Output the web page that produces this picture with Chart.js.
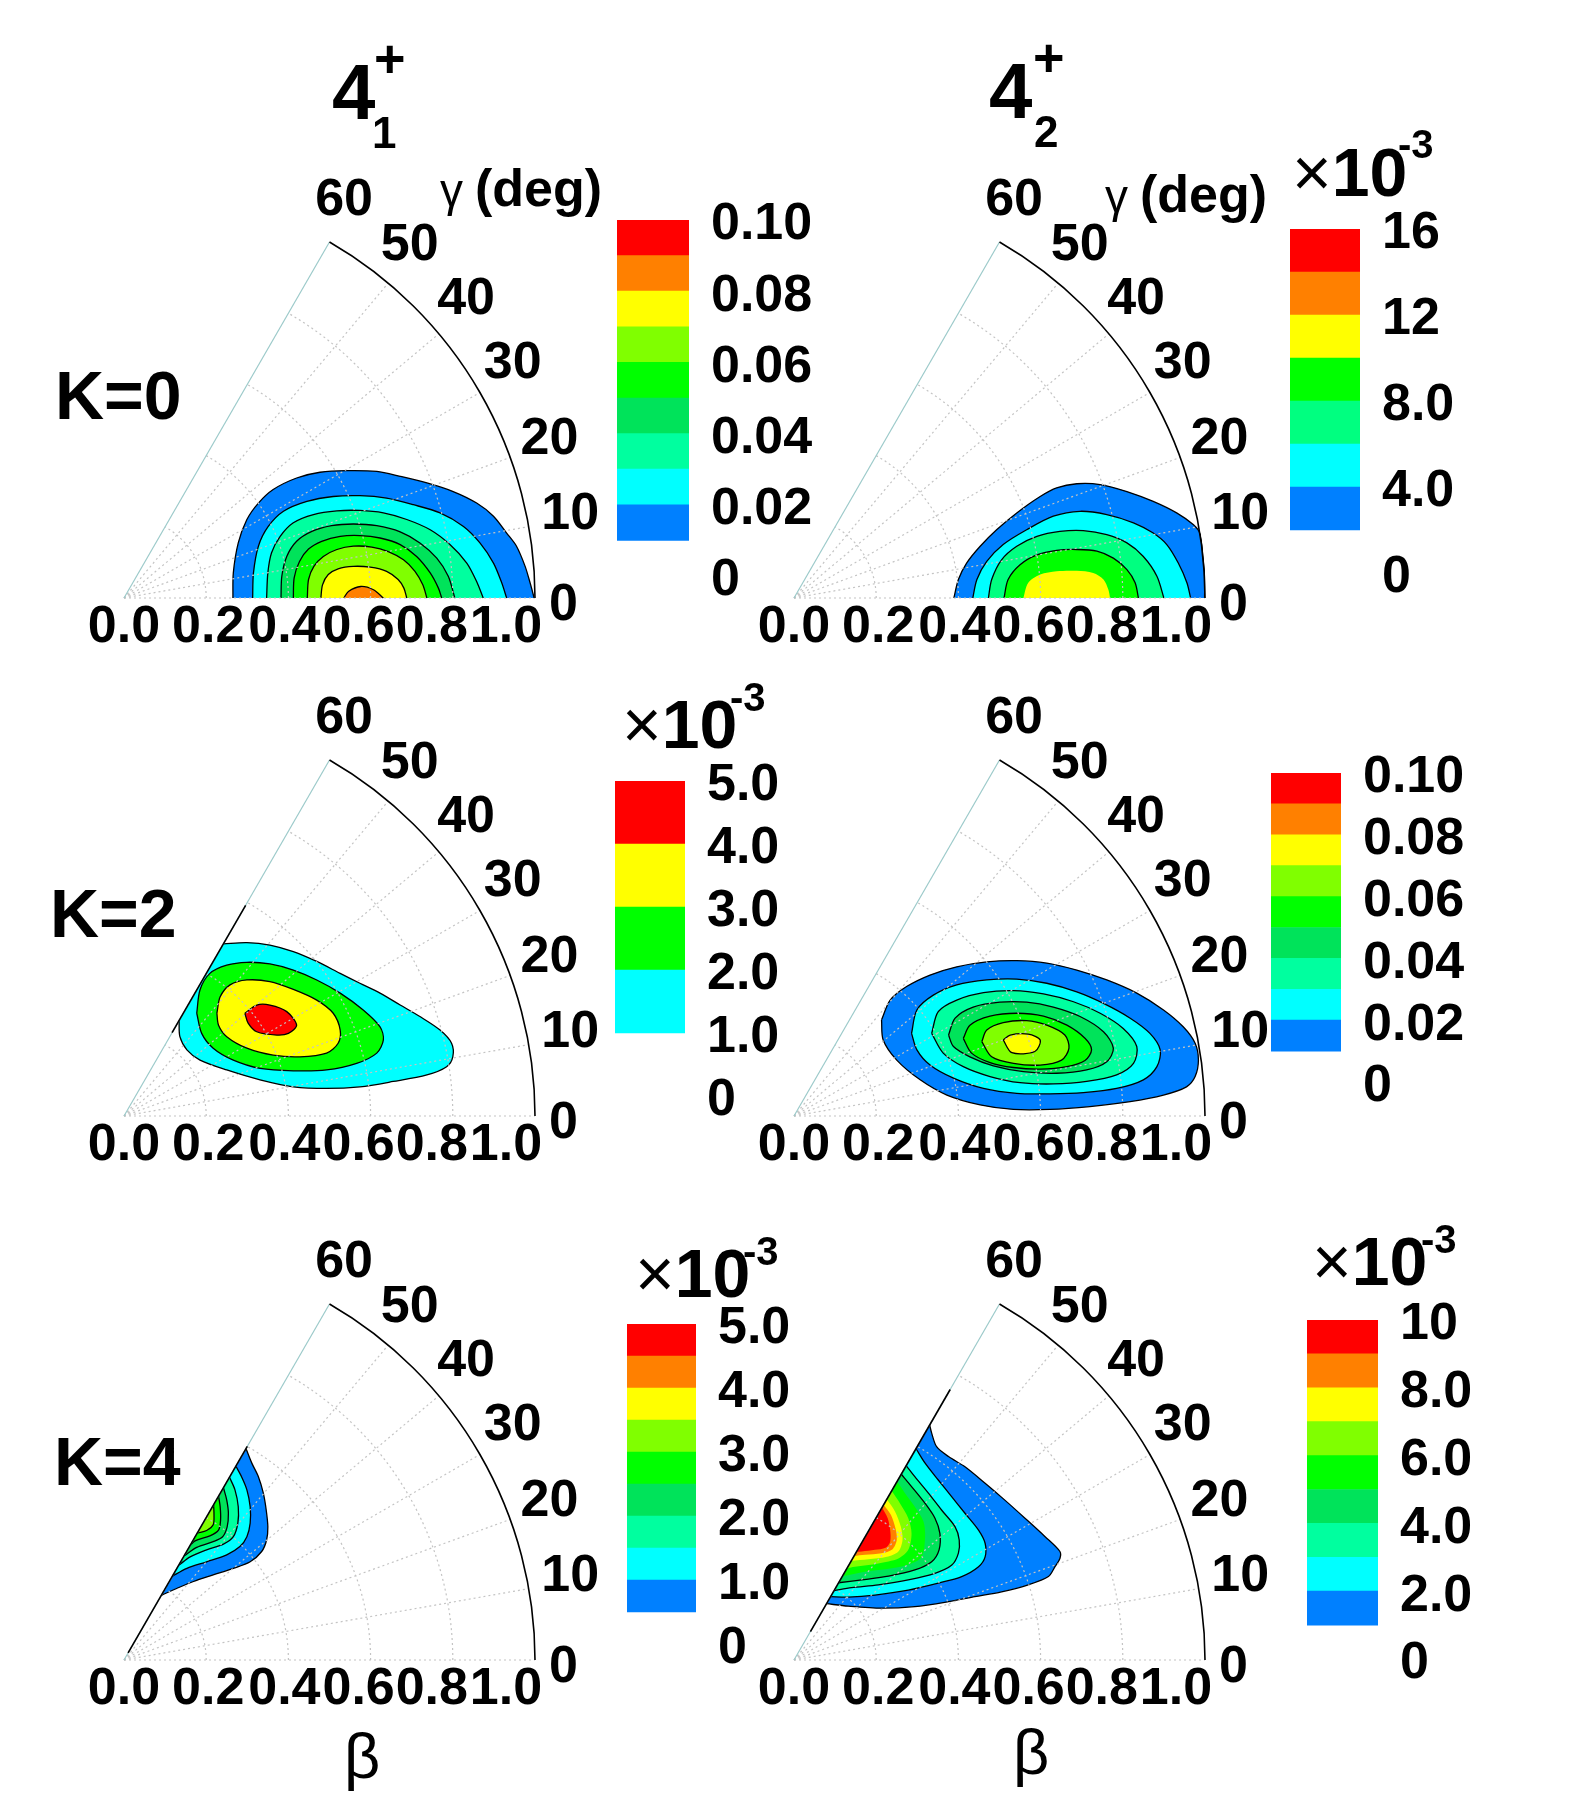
<!DOCTYPE html>
<html><head><meta charset="utf-8">
<script src="https://cdn.jsdelivr.net/npm/chart.js@4.4.1/dist/chart.umd.min.js"></script>
<style>
html,body{margin:0;padding:0;background:#fff;}
body{width:1592px;height:1800px;position:relative;overflow:hidden;font-family:'Liberation Sans',Arial,Helvetica,sans-serif;}
canvas{position:absolute;}
.t{position:absolute;white-space:nowrap;line-height:1;color:#000;}
</style></head><body>
<script>
// ---------- axis data ----------
const betaTicks = [0, 0.2, 0.4, 0.6, 0.8, 1.0];
const betaTickLabels = ['0.0','0.2','0.4','0.6','0.8','1.0'];
const gammaTicks = [0,10,20,30,40,50,60];
const gridBeta = [0.2,0.4,0.6,0.8];
const gridGamma = [10,20,30,40,50];

// ---------- palettes ----------
const pal9 = ['#0080ff','#00ffff','#00ff9f','#00e35a','#00ff00','#80ff00','#ffff00','#ff8000','#ff0000'];
const pal7 = ['#0080ff','#00ffff','#00ff80','#00ff00','#ffff00','#ff8000','#ff0000'];
const pal4 = ['#00ffff','#00ff00','#ffff00','#ff0000'];

// ---------- colour-bar levels & tick labels ----------
const levels41K0 = [0.01,0.02,0.03,0.04,0.05,0.06,0.07,0.08,0.09,0.10];
const ticks41K0 = [0,0.02,0.04,0.06,0.08,0.10];
const tickLabels41K0 = ['0','0.02','0.04','0.06','0.08','0.10'];
const levels42K0 = [2,4,6,8,10,12,14,16];
const ticks42K0 = [0,4,8,12,16];
const tickLabels42K0 = ['0','4.0','8.0','12','16'];
const levels41K2 = [1,2,3,4,5];
const ticks41K2 = [0,1,2,3,4,5];
const tickLabels41K2 = ['0','1.0','2.0','3.0','4.0','5.0'];
const levels42K2 = [0.01,0.02,0.03,0.04,0.05,0.06,0.07,0.08,0.09,0.10];
const ticks42K2 = [0,0.02,0.04,0.06,0.08,0.10];
const tickLabels42K2 = ['0','0.02','0.04','0.06','0.08','0.10'];
const levels41K4 = [0.5,1.0,1.5,2.0,2.5,3.0,3.5,4.0,4.5,5.0];
const ticks41K4 = [0,1,2,3,4,5];
const tickLabels41K4 = ['0','1.0','2.0','3.0','4.0','5.0'];
const levels42K4 = [1,2,3,4,5,6,7,8,9,10];
const ticks42K4 = [0,2,4,6,8,10];
const tickLabels42K4 = ['0','2.0','4.0','6.0','8.0','10'];

// ---------- contour outlines, points as [beta*cos(gamma), beta*sin(gamma)] ----------
// 4_1+, K=0
const c41K0_1 = [[0.265,0],[0.266,0.061],[0.278,0.134],[0.299,0.191],[0.327,0.231],[0.363,0.264],[0.420,0.292],[0.477,0.306],[0.542,0.310],[0.615,0.308],[0.672,0.296],[0.737,0.280],[0.801,0.259],[0.858,0.231],[0.899,0.199],[0.931,0.158],[0.955,0.126],[0.976,0.077],[0.988,0.037],[0.998,0]];
const c41K0_2 = [[0.313,0],[0.315,0.061],[0.327,0.126],[0.351,0.174],[0.388,0.211],[0.445,0.235],[0.509,0.247],[0.574,0.249],[0.639,0.243],[0.704,0.227],[0.769,0.207],[0.826,0.174],[0.866,0.134],[0.899,0.085],[0.919,0.037],[0.931,0]];
const c41K0_3 = [[0.347,0],[0.350,0.061],[0.359,0.110],[0.380,0.150],[0.412,0.183],[0.461,0.203],[0.518,0.212],[0.574,0.213],[0.631,0.207],[0.688,0.191],[0.745,0.166],[0.793,0.130],[0.834,0.085],[0.858,0.040],[0.874,0]];
const c41K0_4 = [[0.382,0],[0.384,0.053],[0.396,0.101],[0.420,0.138],[0.457,0.162],[0.505,0.176],[0.558,0.180],[0.615,0.176],[0.672,0.161],[0.720,0.134],[0.761,0.097],[0.789,0.053],[0.805,0]];
const c41K0_5 = [[0.412,0],[0.414,0.049],[0.427,0.089],[0.449,0.119],[0.481,0.138],[0.526,0.150],[0.574,0.152],[0.623,0.146],[0.672,0.130],[0.712,0.101],[0.745,0.061],[0.765,0.024],[0.773,0]];
const c41K0_6 = [[0.446,0],[0.449,0.045],[0.462,0.077],[0.485,0.101],[0.518,0.118],[0.558,0.126],[0.603,0.124],[0.643,0.113],[0.680,0.093],[0.708,0.065],[0.727,0.032],[0.737,0]];
const c41K0_7 = [[0.479,0],[0.483,0.032],[0.497,0.057],[0.521,0.071],[0.558,0.077],[0.599,0.075],[0.639,0.065],[0.667,0.045],[0.681,0.024],[0.688,0]];
const c41K0_8 = [[0.535,0],[0.546,0.016],[0.576,0.028],[0.607,0.020],[0.631,0]];
// 4_2+, K=0
const c42K0_1 = [[0.389,0],[0.400,0.045],[0.420,0.085],[0.453,0.126],[0.493,0.166],[0.542,0.207],[0.599,0.247],[0.639,0.268],[0.688,0.278],[0.745,0.276],[0.810,0.259],[0.874,0.235],[0.931,0.207],[0.972,0.178],[0.988,0.156],[0.995,0.105],[0.999,0.052],[0.999,0]];
const c42K0_2 = [[0.435,0],[0.445,0.045],[0.469,0.089],[0.509,0.130],[0.566,0.166],[0.631,0.199],[0.696,0.211],[0.761,0.203],[0.826,0.183],[0.874,0.158],[0.907,0.130],[0.935,0.085],[0.956,0.037],[0.965,0]];
const c42K0_3 = [[0.473,0],[0.481,0.045],[0.505,0.093],[0.542,0.126],[0.591,0.150],[0.647,0.162],[0.704,0.164],[0.761,0.154],[0.810,0.134],[0.850,0.101],[0.883,0.053],[0.900,0]];
const c42K0_4 = [[0.511,0],[0.521,0.045],[0.550,0.081],[0.591,0.105],[0.639,0.116],[0.688,0.118],[0.737,0.114],[0.777,0.097],[0.810,0.069],[0.830,0.037],[0.838,0]];
const c42K0_5 = [[0.558,0],[0.570,0.037],[0.599,0.057],[0.639,0.065],[0.688,0.066],[0.728,0.061],[0.753,0.045],[0.765,0.020],[0.769,0]];
// 4_1+, K=2
const c41K2_1 = [[0.242,0.419],[0.299,0.422],[0.355,0.416],[0.412,0.400],[0.469,0.376],[0.526,0.347],[0.574,0.323],[0.623,0.299],[0.672,0.270],[0.720,0.242],[0.769,0.209],[0.797,0.177],[0.800,0.144],[0.785,0.120],[0.737,0.100],[0.655,0.084],[0.574,0.071],[0.493,0.067],[0.412,0.071],[0.331,0.088],[0.250,0.112],[0.185,0.136],[0.153,0.161],[0.136,0.193],[0.134,0.231]];
const c41K2_2 = [[0.177,0.250],[0.185,0.307],[0.209,0.347],[0.250,0.367],[0.299,0.374],[0.355,0.370],[0.412,0.355],[0.469,0.331],[0.526,0.299],[0.582,0.258],[0.623,0.217],[0.631,0.185],[0.615,0.153],[0.566,0.128],[0.493,0.112],[0.412,0.110],[0.331,0.116],[0.266,0.136],[0.217,0.165],[0.189,0.201],[0.177,0.250]];
const c41K2_3 = [[0.226,0.250],[0.234,0.290],[0.258,0.319],[0.299,0.331],[0.355,0.327],[0.412,0.308],[0.469,0.282],[0.509,0.250],[0.526,0.209],[0.521,0.177],[0.493,0.153],[0.428,0.144],[0.363,0.148],[0.299,0.165],[0.250,0.193],[0.230,0.221],[0.226,0.250]];
const c41K2_4 = [[0.294,0.250],[0.323,0.270],[0.355,0.270],[0.396,0.254],[0.420,0.221],[0.400,0.201],[0.372,0.197],[0.323,0.205],[0.302,0.226],[0.294,0.250]];
// 4_2+, K=2
const c42K2_1 = [[0.213,0.234],[0.234,0.282],[0.274,0.315],[0.331,0.343],[0.396,0.363],[0.469,0.375],[0.542,0.378],[0.615,0.372],[0.688,0.355],[0.761,0.331],[0.834,0.299],[0.899,0.258],[0.947,0.217],[0.976,0.177],[0.984,0.136],[0.976,0.096],[0.955,0.071],[0.899,0.051],[0.818,0.035],[0.720,0.023],[0.623,0.016],[0.534,0.016],[0.453,0.027],[0.372,0.051],[0.307,0.088],[0.250,0.136],[0.217,0.185],[0.213,0.234]];
const c42K2_2 = [[0.286,0.201],[0.299,0.258],[0.339,0.294],[0.396,0.319],[0.469,0.331],[0.542,0.333],[0.615,0.323],[0.688,0.302],[0.753,0.274],[0.818,0.238],[0.866,0.201],[0.891,0.161],[0.883,0.120],[0.850,0.088],[0.785,0.067],[0.704,0.057],[0.623,0.054],[0.542,0.055],[0.461,0.067],[0.388,0.092],[0.331,0.124],[0.299,0.161],[0.286,0.201]];
const c42K2_3 = [[0.335,0.201],[0.351,0.254],[0.396,0.282],[0.461,0.300],[0.534,0.305],[0.607,0.297],[0.680,0.278],[0.745,0.250],[0.801,0.213],[0.834,0.169],[0.826,0.128],[0.785,0.100],[0.712,0.084],[0.631,0.078],[0.550,0.081],[0.477,0.096],[0.412,0.120],[0.363,0.153],[0.335,0.201]];
const c42K2_4 = [[0.376,0.197],[0.392,0.238],[0.436,0.265],[0.501,0.277],[0.566,0.277],[0.631,0.265],[0.696,0.242],[0.753,0.205],[0.777,0.165],[0.761,0.132],[0.712,0.112],[0.639,0.104],[0.558,0.108],[0.485,0.122],[0.428,0.144],[0.388,0.169],[0.376,0.197]];
const c42K2_5 = [[0.412,0.189],[0.428,0.221],[0.477,0.243],[0.542,0.250],[0.607,0.243],[0.664,0.221],[0.708,0.189],[0.724,0.161],[0.708,0.135],[0.664,0.120],[0.599,0.114],[0.534,0.118],[0.477,0.130],[0.432,0.153],[0.412,0.189]];
const c42K2_6 = [[0.457,0.181],[0.469,0.209],[0.509,0.227],[0.566,0.232],[0.615,0.221],[0.659,0.197],[0.669,0.165],[0.651,0.136],[0.599,0.124],[0.534,0.128],[0.481,0.144],[0.457,0.181]];
const c42K2_7 = [[0.509,0.185],[0.526,0.197],[0.570,0.199],[0.599,0.185],[0.586,0.157],[0.530,0.154],[0.509,0.185]];
// 4_1+, K=4
const c41K4_1 = [[0.297,0.514],[0.311,0.479],[0.327,0.446],[0.339,0.406],[0.346,0.365],[0.350,0.324],[0.347,0.292],[0.335,0.264],[0.307,0.239],[0.266,0.223],[0.217,0.207],[0.169,0.191],[0.128,0.174],[0.092,0.158]];
const c41K4_2 = [[0.272,0.472],[0.286,0.446],[0.299,0.414],[0.307,0.373],[0.307,0.333],[0.299,0.300],[0.282,0.276],[0.250,0.256],[0.201,0.239],[0.153,0.223],[0.116,0.203]];
const c41K4_3 = [[0.257,0.444],[0.270,0.414],[0.278,0.373],[0.277,0.333],[0.266,0.300],[0.242,0.282],[0.201,0.268],[0.161,0.251],[0.134,0.231]];
const c41K4_4 = [[0.242,0.419],[0.250,0.389],[0.254,0.357],[0.251,0.324],[0.240,0.300],[0.217,0.288],[0.177,0.274],[0.147,0.254]];
const c41K4_5 = [[0.230,0.399],[0.234,0.373],[0.235,0.341],[0.230,0.316],[0.209,0.302],[0.173,0.290],[0.160,0.278]];
const c41K4_6 = [[0.218,0.378],[0.219,0.353],[0.217,0.329],[0.201,0.315],[0.179,0.309]];
// 4_2+, K=4
const c42K4_1 = [[0.330,0.572],[0.335,0.552],[0.347,0.519],[0.376,0.495],[0.416,0.470],[0.465,0.430],[0.513,0.389],[0.562,0.345],[0.611,0.300],[0.647,0.264],[0.647,0.247],[0.635,0.227],[0.619,0.203],[0.570,0.183],[0.505,0.166],[0.440,0.154],[0.376,0.142],[0.294,0.130],[0.213,0.126],[0.132,0.131],[0.079,0.137]];
const c42K4_2 = [[0.297,0.514],[0.319,0.479],[0.351,0.438],[0.384,0.397],[0.416,0.357],[0.449,0.316],[0.465,0.284],[0.465,0.251],[0.449,0.227],[0.408,0.203],[0.351,0.187],[0.278,0.170],[0.197,0.158],[0.132,0.153],[0.089,0.154]];
const c42K4_3 = [[0.273,0.473],[0.294,0.446],[0.327,0.406],[0.359,0.365],[0.392,0.324],[0.402,0.292],[0.400,0.260],[0.384,0.231],[0.343,0.211],[0.278,0.195],[0.205,0.183],[0.140,0.176],[0.098,0.169]];
const c42K4_4 = [[0.261,0.452],[0.286,0.422],[0.319,0.381],[0.343,0.345],[0.355,0.308],[0.353,0.268],[0.335,0.239],[0.294,0.219],[0.230,0.204],[0.165,0.195],[0.108,0.188]];
const c42K4_5 = [[0.251,0.435],[0.270,0.406],[0.294,0.373],[0.315,0.337],[0.319,0.300],[0.311,0.251],[0.286,0.235],[0.238,0.223],[0.173,0.215],[0.118,0.204]];
const c42K4_6 = [[0.238,0.411],[0.258,0.381],[0.278,0.345],[0.286,0.308],[0.278,0.268],[0.254,0.247],[0.205,0.235],[0.148,0.227],[0.129,0.223]];
const c42K4_7 = [[0.226,0.391],[0.246,0.361],[0.260,0.324],[0.264,0.292],[0.254,0.264],[0.226,0.251],[0.181,0.245],[0.139,0.241]];
const c42K4_8 = [[0.218,0.378],[0.236,0.353],[0.247,0.320],[0.250,0.292],[0.239,0.269],[0.213,0.260],[0.173,0.256],[0.146,0.253]];
const c42K4_9 = [[0.214,0.371],[0.228,0.345],[0.234,0.316],[0.234,0.288],[0.223,0.273],[0.197,0.268],[0.165,0.264],[0.152,0.263]];

// beta-range where the gamma=60 edge carries a black contour line
const edge41K2 = [0.234, 0.592];
const edge41K4 = [0.02, 0.60];
const edge42K4 = [0.08, 0.76];

// ---------- layout ----------
const PX = 411; // pixels per unit of beta
const FONT = "'Liberation Sans', Arial, Helvetica, sans-serif";
const gammaLabelAngleOffset = [-1, 0.6, 0.4, 1.1, 1.1, 1.0, 1.0];
const betaLabelShiftPx = [0, 2, -4, -12, -21, -29];
const panels = [
  {ox:124, oy:598, contours:[c41K0_1,c41K0_2,c41K0_3,c41K0_4,c41K0_5,c41K0_6,c41K0_7,c41K0_8], colors:pal9, lined:[1,1,1,1,1,1,1,1], edge:null,
   cb:{left:617, top:220, zero:576, width:72, levels:levels41K0, colors:pal9, ticks:ticks41K0, labels:tickLabels41K0}},
  {ox:794, oy:598, contours:[c42K0_1,c42K0_2,c42K0_3,c42K0_4,c42K0_5], colors:pal7, lined:[1,1,1,1,0], edge:null,
   cb:{left:1290, top:229, zero:573, width:70, levels:levels42K0, colors:pal7, ticks:ticks42K0, labels:tickLabels42K0}},
  {ox:124, oy:1116, contours:[c41K2_1,c41K2_2,c41K2_3,c41K2_4], colors:pal4, lined:[1,1,1,1], edge:edge41K2,
   cb:{left:615, top:781, zero:1096, width:70, levels:levels41K2, colors:pal4, ticks:ticks41K2, labels:tickLabels41K2}},
  {ox:794, oy:1116, contours:[c42K2_1,c42K2_2,c42K2_3,c42K2_4,c42K2_5,c42K2_6,c42K2_7], colors:pal9, lined:[1,1,1,1,1,1,1], edge:null,
   cb:{left:1271, top:773, zero:1082, width:70, levels:levels42K2, colors:pal9, ticks:ticks42K2, labels:tickLabels42K2}},
  {ox:124, oy:1660, contours:[c41K4_1,c41K4_2,c41K4_3,c41K4_4,c41K4_5,c41K4_6], colors:pal9, lined:[1,1,1,1,1,1], edge:edge41K4,
   cb:{left:627, top:1324, zero:1644, width:69, levels:levels41K4, colors:pal9, ticks:ticks41K4, labels:tickLabels41K4}},
  {ox:794, oy:1660, contours:[c42K4_1,c42K4_2,c42K4_3,c42K4_4,c42K4_5,c42K4_6,c42K4_7,c42K4_8,c42K4_9], colors:pal9, lined:[1,1,1,1,0,0,0,0,0], edge:edge42K4,
   cb:{left:1307, top:1320, zero:1659, width:71, levels:levels42K4, colors:pal9, ticks:ticks42K4, labels:tickLabels42K4}}
];

function makeCanvas(left, top, w, h) {
  const cv = document.createElement('canvas');
  cv.width = w; cv.height = h;
  cv.style.left = left + 'px'; cv.style.top = top + 'px';
  cv.style.width = w + 'px'; cv.style.height = h + 'px';
  document.body.appendChild(cv);
  return cv;
}

function wedgePlugin(p) {
  function geo(chart) {
    const xs = chart.scales.x, ys = chart.scales.y;
    const x0 = xs.getPixelForValue(0), y0 = ys.getPixelForValue(0);
    const r = xs.getPixelForValue(1) - x0;
    const P = (b, g) => { const a = g * Math.PI / 180; return [xs.getPixelForValue(b * Math.cos(a)), ys.getPixelForValue(b * Math.sin(a))]; };
    return {x0, y0, r, P};
  }
  return {
    id: 'wedge',
    beforeDatasetsDraw(chart) {
      const {x0, y0, r} = geo(chart); const ctx = chart.ctx;
      ctx.save();
      ctx.beginPath(); ctx.moveTo(x0, y0 + 1); ctx.lineTo(x0 + r + 1, y0 + 1);
      ctx.arc(x0, y0, r + 1, 0, -Math.PI / 3, true); ctx.closePath(); ctx.clip();
    },
    afterDatasetsDraw(chart) {
      const ctx = chart.ctx; ctx.restore();
      const {x0, y0, r, P} = geo(chart);
      ctx.save();
      // dotted grid
      ctx.strokeStyle = '#c4c4c4'; ctx.lineWidth = 1.2; ctx.setLineDash([2, 3]);
      gridBeta.forEach(b => { ctx.beginPath(); ctx.arc(x0, y0, b * r, 0, -Math.PI / 3, true); ctx.stroke(); });
      gridGamma.concat([0]).forEach(g => { const a = P(0, g), c = P(1, g); ctx.beginPath(); ctx.moveTo(a[0], a[1]); ctx.lineTo(c[0], c[1]); ctx.stroke(); });
      ctx.setLineDash([]);
      // 60 degree edge
      { const a = P(0, 60), c = P(1, 60); ctx.strokeStyle = '#9ccaca'; ctx.lineWidth = 1.2; ctx.beginPath(); ctx.moveTo(a[0], a[1]); ctx.lineTo(c[0], c[1]); ctx.stroke(); }
      if (p.edge) { const a = P(p.edge[0], 60), c = P(p.edge[1], 60); ctx.strokeStyle = '#000'; ctx.lineWidth = 1.6; ctx.beginPath(); ctx.moveTo(a[0], a[1]); ctx.lineTo(c[0], c[1]); ctx.stroke(); }
      // outer arc
      ctx.strokeStyle = '#000'; ctx.lineWidth = 1.6; ctx.beginPath(); ctx.arc(x0, y0, r, 0, -Math.PI / 3, true); ctx.stroke();
      // tick labels (beta labels squeezed toward the origin as in the original)
      ctx.fillStyle = '#000'; ctx.font = 'bold 52px ' + FONT;
      ctx.textAlign = 'center'; ctx.textBaseline = 'alphabetic';
      betaTicks.forEach((b, i) => { const q = P(b, 0); ctx.fillText(betaTickLabels[i], q[0] + betaLabelShiftPx[i], y0 + 44); });
      ctx.textBaseline = 'middle';
      gammaTicks.forEach((g, i) => {
        const s = String(g); const w = ctx.measureText(s).width;
        const rr = (r + 14 + w / 2) / r; const ang = g + gammaLabelAngleOffset[i];
        const q = P(rr, ang); ctx.fillText(s, q[0], q[1]);
      });
      ctx.restore();
    }
  };
}

function makeWedge(p) {
  const L = 100, T = 460, W = 590, H = 520;
  const cv = makeCanvas(p.ox - L, p.oy - T, W, H);
  const n = p.contours.length;
  const datasets = p.contours.map((pts, i) => ({
    data: pts.map(v => ({x: v[0], y: v[1]})),
    showLine: true, fill: 'shape', backgroundColor: p.colors[i],
    borderColor: p.lined[i] ? '#000' : 'rgba(0,0,0,0)', borderWidth: p.lined[i] ? 1.3 : 0,
    pointRadius: 0, pointHoverRadius: 0, tension: 0.3, order: n - i
  }));
  new Chart(cv, {
    type: 'scatter', data: {datasets},
    options: {
      responsive: false, animation: false, events: [], devicePixelRatio: 1,
      layout: {padding: 0},
      plugins: {legend: {display: false}, tooltip: {enabled: false}},
      scales: {
        x: {type: 'linear', display: false, min: -L / PX, max: (W - L) / PX},
        y: {type: 'linear', display: false, min: -(H - T) / PX, max: T / PX}
      }
    },
    plugins: [wedgePlugin(p)]
  });
}

function makeColorbar(cb) {
  const padT = 30, padB = 30, labW = 150;
  const h0 = cb.zero - cb.top;
  const cv = makeCanvas(cb.left, cb.top - padT, cb.width + labW, h0 + padT + padB);
  const datasets = [];
  for (let i = 0; i < cb.levels.length - 1; i++) {
    datasets.push({data: [[cb.levels[i], cb.levels[i + 1]]], backgroundColor: cb.colors[i], borderWidth: 0,
      grouped: false, barPercentage: 1, categoryPercentage: 1});
  }
  new Chart(cv, {
    type: 'bar', data: {labels: [''], datasets},
    options: {
      responsive: false, animation: false, events: [], devicePixelRatio: 1,
      layout: {padding: {top: padT, bottom: padB, left: 0, right: labW}},
      plugins: {legend: {display: false}, tooltip: {enabled: false}},
      scales: {x: {display: false}, y: {display: false, min: 0, max: cb.ticks[cb.ticks.length - 1]}}
    },
    plugins: [{
      id: 'cblabels',
      afterDraw(chart) {
        const ctx = chart.ctx, ys = chart.scales.y, a = chart.chartArea;
        ctx.save(); ctx.fillStyle = '#000'; ctx.font = 'bold 52px ' + FONT;
        ctx.textAlign = 'left'; ctx.textBaseline = 'middle';
        cb.ticks.forEach((v, i) => ctx.fillText(cb.labels[i], a.right + 22, ys.getPixelForValue(v) + 5));
        ctx.restore();
      }
    }]
  });
}

panels.forEach(p => { makeWedge(p); makeColorbar(p.cb); });

// ---------- titles and annotations ----------
function addText(html, x, baseline, fs, weight, center) {
  const d = document.createElement('div');
  d.className = 't'; d.innerHTML = html;
  d.style.fontSize = fs + 'px'; d.style.fontWeight = weight;
  d.style.top = (baseline - 0.8465 * fs) + 'px';
  d.style.left = x + 'px';
  if (center) d.style.transform = 'translateX(-50%)';
  document.body.appendChild(d);
}
const XT = '<span style="font-weight:normal">\u00d7</span>10';
[
  ['4', 332, 119, 78, 'bold'], ['1', 372, 148, 44, 'bold'], ['+', 374, 77, 54, 'bold'],
  ['4', 989, 118, 78, 'bold'], ['2', 1034, 147, 44, 'bold'], ['+', 1033, 76, 54, 'bold'],
  ['K=0', 55, 419, 68, 'bold'], ['K=2', 50, 937, 68, 'bold'], ['K=4', 54, 1485, 68, 'bold'],
  ['\u03b3', 440, 206, 46, 'normal'], ['(deg)', 475, 206, 52, 'bold'],
  ['\u03b3', 1105, 212, 46, 'normal'], ['(deg)', 1140, 212, 52, 'bold'],
  [XT, 1292, 196, 68, 'bold'], ['-3', 1398, 158, 40, 'bold'],
  [XT, 622, 748, 68, 'bold'], ['-3', 730, 711, 40, 'bold'],
  [XT, 635, 1297, 68, 'bold'], ['-3', 743, 1265, 40, 'bold'],
  [XT, 1312, 1285, 68, 'bold'], ['-3', 1421, 1253, 40, 'bold']
].forEach(t => addText(t[0], t[1], t[2], t[3], t[4], false));
addText('\u03b2', 362, 1778, 63, 'normal', true);
addText('\u03b2', 1031, 1774, 63, 'normal', true);
</script>
</body></html>
